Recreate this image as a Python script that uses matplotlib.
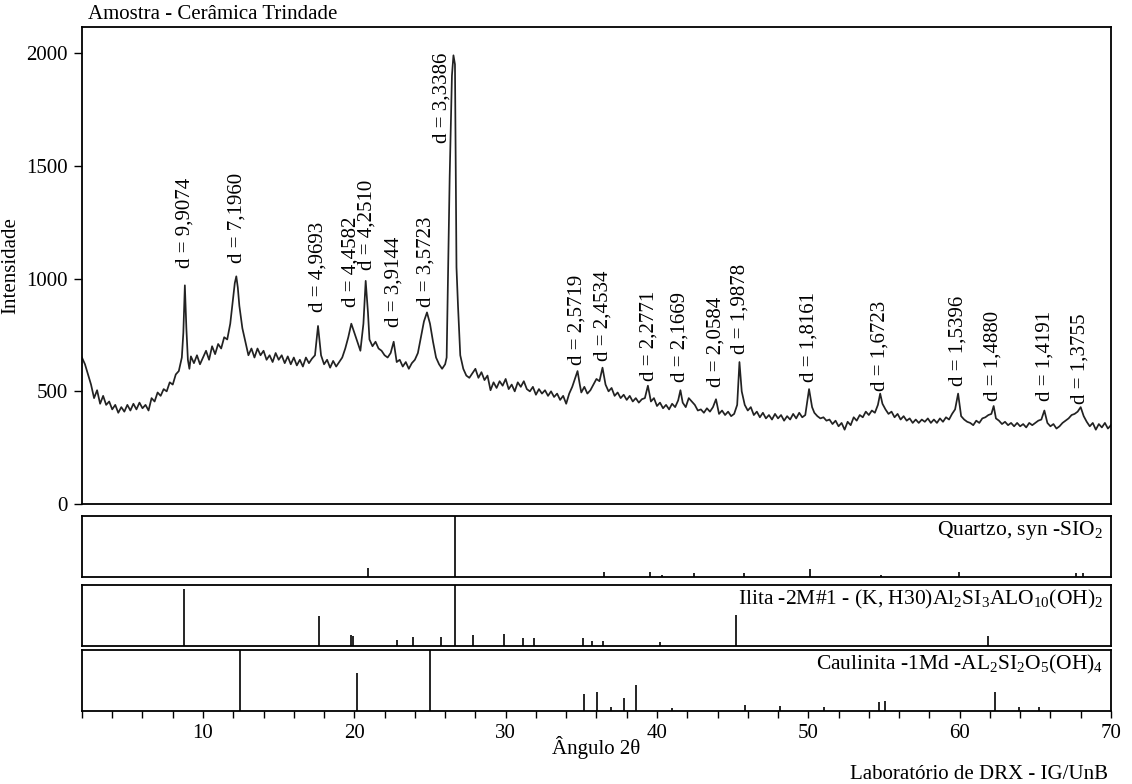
import matplotlib
matplotlib.use("Agg")
import matplotlib.pyplot as plt
from matplotlib.ticker import MultipleLocator

plt.rcParams['font.family'] = ['Liberation Serif', 'DejaVu Serif']
plt.rcParams['mathtext.fontset'] = 'custom'
plt.rcParams['mathtext.rm'] = 'Liberation Serif'
plt.rcParams['mathtext.it'] = 'Liberation Serif'
plt.rcParams['mathtext.default'] = 'regular'

# ---- XRD pattern (2-theta, intensity) ----
two_theta = [
    2.0, 2.2, 2.4, 2.6, 2.8, 3.0, 3.2, 3.4, 3.6, 3.8, 4.0, 4.2, 4.4, 4.6, 4.8, 5.0,
    5.2, 5.4, 5.6, 5.8, 6.0, 6.2, 6.4, 6.6, 6.8, 7.0, 7.2, 7.4, 7.6, 7.8, 8.0, 8.2,
    8.4, 8.6, 8.7, 8.8, 8.9, 9.0, 9.1, 9.2, 9.4, 9.6, 9.8, 10.0, 10.2, 10.4, 10.6,
    10.8, 11.0, 11.2, 11.4, 11.6, 11.8, 12.0, 12.1, 12.2, 12.3, 12.4, 12.6, 12.8,
    13.0, 13.2, 13.4, 13.6, 13.8, 14.0, 14.2, 14.4, 14.6, 14.8, 15.0, 15.2, 15.4,
    15.6, 15.8, 16.0, 16.2, 16.4, 16.6, 16.8, 17.0, 17.2, 17.4, 17.6, 17.8, 18.0,
    18.2, 18.4, 18.6, 18.8, 19.0, 19.2, 19.4, 19.6, 19.8, 20.0, 20.2, 20.4, 20.6,
    20.75, 20.9, 21.0, 21.2, 21.4, 21.6, 21.8, 22.0, 22.2, 22.4, 22.6, 22.8, 23.0,
    23.2, 23.4, 23.6, 23.8, 24.0, 24.2, 24.4, 24.6, 24.8, 25.0, 25.2, 25.4, 25.6,
    25.8, 26.0, 26.1, 26.3, 26.45, 26.55, 26.65, 26.75, 26.85, 27.0, 27.2, 27.4,
    27.6, 27.8, 28.0, 28.2, 28.4, 28.6, 28.8, 29.0, 29.2, 29.4, 29.6, 29.8, 30.0,
    30.2, 30.4, 30.6, 30.8, 31.0, 31.2, 31.4, 31.6, 31.8, 32.0, 32.2, 32.4, 32.6,
    32.8, 33.0, 33.2, 33.4, 33.6, 33.8, 34.0, 34.2, 34.4, 34.6, 34.75, 34.9, 35.0,
    35.2, 35.4, 35.6, 35.8, 36.0, 36.2, 36.4, 36.6, 36.8, 37.0, 37.2, 37.4, 37.6,
    37.8, 38.0, 38.2, 38.4, 38.6, 38.8, 39.0, 39.2, 39.4, 39.6, 39.8, 40.0, 40.2,
    40.4, 40.6, 40.8, 41.0, 41.2, 41.4, 41.55, 41.7, 41.9, 42.1, 42.3, 42.5, 42.7,
    42.9, 43.1, 43.3, 43.5, 43.7, 43.9, 44.1, 44.3, 44.5, 44.7, 44.9, 45.1, 45.3,
    45.45, 45.6, 45.8, 46.0, 46.2, 46.4, 46.6, 46.8, 47.0, 47.2, 47.4, 47.6, 47.8,
    48.0, 48.2, 48.4, 48.6, 48.8, 49.0, 49.2, 49.4, 49.6, 49.8, 50.05, 50.25, 50.4,
    50.6, 50.8, 51.0, 51.2, 51.4, 51.6, 51.8, 52.0, 52.2, 52.4, 52.6, 52.8, 53.0,
    53.2, 53.4, 53.6, 53.8, 54.0, 54.2, 54.4, 54.6, 54.75, 54.9, 55.1, 55.3, 55.5,
    55.7, 55.9, 56.1, 56.3, 56.5, 56.7, 56.9, 57.1, 57.3, 57.5, 57.7, 57.9, 58.1,
    58.3, 58.5, 58.7, 58.9, 59.1, 59.3, 59.5, 59.7, 59.9, 60.1, 60.3, 60.5, 60.7,
    60.9, 61.1, 61.3, 61.5, 61.7, 61.9, 62.1, 62.25, 62.4, 62.6, 62.8, 63.0, 63.2,
    63.4, 63.6, 63.8, 64.0, 64.2, 64.4, 64.6, 64.8, 65.0, 65.2, 65.4, 65.6, 65.8,
    66.0, 66.2, 66.4, 66.6, 66.8, 67.0, 67.2, 67.4, 67.6, 67.8, 68.0, 68.2, 68.4,
    68.6, 68.8, 69.0, 69.2, 69.4, 69.6, 69.8, 70.0,
]
intensity = [
    650, 620, 575, 530, 470, 505, 445, 480, 440, 455, 420, 440, 405, 430, 410, 440,
    415, 445, 420, 450, 425, 440, 415, 470, 455, 495, 480, 510, 500, 540, 530, 575,
    590, 650, 760, 970, 780, 640, 600, 655, 625, 660, 620, 650, 680, 640, 700,
    665, 710, 690, 740, 730, 800, 920, 980, 1010, 960, 880, 780, 720,
    660, 690, 650, 690, 660, 680, 640, 660, 630, 670, 640, 660, 625,
    655, 620, 650, 615, 640, 610, 650, 625, 645, 660, 790, 660, 620,
    640, 605, 635, 610, 630, 650, 690, 740, 800, 760, 720, 680, 800,
    990, 850, 730, 700, 720, 690, 680, 660, 650, 670, 720, 630, 640,
    610, 630, 600, 625, 640, 670, 740, 810, 850, 800, 720, 650, 620,
    600, 620, 650, 1450, 1900, 1990, 1950, 1050, 880, 660, 600, 570,
    560, 580, 600, 560, 585, 550, 570, 505, 540, 515, 545, 525, 555,
    510, 530, 500, 540, 520, 545, 510, 500, 520, 485, 510, 490, 505,
    480, 500, 475, 490, 462, 480, 445, 490, 520, 560, 590, 530, 495,
    520, 490, 505, 530, 555, 545, 605, 530, 500, 515, 480, 495, 470,
    485, 462, 480, 455, 470, 450, 465, 470, 525, 455, 470, 435, 450,
    425, 440, 420, 445, 430, 460, 505, 450, 430, 470, 455, 440, 415,
    420, 405, 425, 410, 430, 465, 400, 415, 395, 410, 390, 400, 440,
    630, 500, 440, 415, 430, 395, 410, 385, 405, 380, 395, 375, 400,
    380, 395, 370, 390, 375, 400, 380, 405, 385, 395, 510, 430, 405,
    390, 380, 385, 370, 375, 355, 370, 345, 360, 330, 365, 350, 385,
    370, 395, 385, 410, 395, 415, 405, 440, 490, 445, 420, 400, 410,
    385, 400, 375, 390, 370, 380, 360, 375, 360, 375, 365, 380, 360,
    375, 360, 380, 365, 385, 375, 400, 420, 490, 390, 375, 365, 360,
    350, 370, 360, 380, 385, 395, 400, 435, 380, 370, 355, 365, 350,
    360, 345, 360, 345, 355, 340, 360, 350, 360, 370, 375, 415, 360,
    345, 355, 335, 345, 360, 370, 380, 395, 400, 410, 430, 390, 365,
    345, 360, 330, 355, 340, 360, 335, 350,
]

# ---- peak labels ----
peak_labels = ["d = 9,9074", "d = 7,1960", "d = 4,9693", "d = 4,4582", "d = 4,2510",
               "d = 3,9144", "d = 3,5723", "d = 3,3386", "d = 2,5719", "d = 2,4534",
               "d = 2,2771", "d = 2,1669", "d = 2,0584", "d = 1,9878", "d = 1,8161",
               "d = 1,6723", "d = 1,5396", "d = 1,4880", "d = 1,4191", "d = 1,3755"]
peak_label_x = [8.83, 12.24, 17.62, 19.75, 20.82, 22.6, 24.75, 25.8, 34.7, 36.45,
                39.45, 41.55, 43.9, 45.5, 50.07, 54.75, 59.92, 62.23, 65.65, 67.96]
peak_label_y = [1045, 1070, 850, 875, 1040, 785, 875, 1600, 615, 635,
                548, 540, 520, 665, 540, 500, 525, 455, 457, 445]

# ---- reference phases (stick patterns, relative intensity %) ----
quartz_pos = [20.87, 26.65, 36.49, 39.55, 40.3, 42.45, 45.75, 50.1, 54.8, 59.96, 67.7, 68.13]
quartz_int = [15, 100, 8, 8, 4, 7, 7, 13, 3, 8, 7, 7]

ilita_pos = [8.76, 17.64, 19.76, 19.92, 22.8, 23.87, 25.75, 26.65, 27.84, 29.89, 31.15,
             31.87, 35.09, 35.71, 36.44, 40.2, 45.25, 61.86]
ilita_int = [93, 49, 18, 16, 10, 14, 15, 100, 18, 20, 13, 13, 13, 9, 9, 6, 51, 16]

caul_pos = [12.47, 20.16, 25.03, 35.15, 36.02, 36.96, 37.8, 38.62, 41.0, 45.8, 48.13,
            51.04, 54.68, 55.1, 62.34, 63.93, 65.25]
caul_int = [100, 62, 100, 28, 31, 7, 22, 42, 5, 10, 8, 7, 14, 17, 31, 7, 6]

phase_names = ["Quartzo, syn -SIO$_2$",
               "Ilita -2M#1 - (K, H30)Al$_2$SI$_3$ALO$_{10}$(OH)$_2$",
               "Caulinita -1Md -AL$_2$SI$_2$O$_5$(OH)$_4$"]

FS = 15
fig = plt.figure(figsize=(11.32, 7.84), dpi=100)
L, W = 0.0724, 0.909
ax = fig.add_axes([L, 0.357, W, 0.6084])
ax.plot(two_theta, intensity, color='#222222', lw=1.25)
ax.set_xlim(2, 70)
ax.set_ylim(0, 2115)
ax.set_yticks([0, 500, 1000, 1500, 2000])
ax.tick_params(axis='y', direction='out', length=6, width=1, labelsize=FS, pad=4)
ax.tick_params(axis='x', bottom=False, labelbottom=False)
ax.set_ylabel("Intensidade", fontsize=FS)
ax.yaxis.set_label_coords(-0.06, 0.5)
for lab, x, y in zip(peak_labels, peak_label_x, peak_label_y):
    ax.text(x, y, lab, rotation=90, ha='center', va='bottom', fontsize=FS)
fig.text(0.0777, 0.982, "Amostra - Cerâmica Trindade", fontsize=FS, ha='left', va='center')

H = 0.0778
panels = [(0.2640, quartz_pos, quartz_int), (0.1760, ilita_pos, ilita_int), (0.0931, caul_pos, caul_int)]
axes = []
for i, (b, pos, inten) in enumerate(panels):
    a = fig.add_axes([L, b, W, H])
    a.vlines(pos, 0, inten, color='black', lw=1.2)
    a.set_xlim(2, 70)
    a.set_ylim(0, 100)
    a.set_yticks([])
    a.text(0.992, 0.76, phase_names[i], transform=a.transAxes, ha='right', va='center',
           fontsize=15.5)
    axes.append(a)

for a in [ax] + axes:
    for s in a.spines.values():
        s.set_linewidth(1.3)

for a in axes[:2]:
    a.tick_params(axis='x', bottom=False, labelbottom=False)
ab = axes[2]
ab.xaxis.set_major_locator(MultipleLocator(10))
ab.xaxis.set_minor_locator(MultipleLocator(2))
ab.tick_params(axis='x', which='both', direction='out', length=5, width=1, labelsize=FS, pad=4)
fig.text(0.527, 0.046, "Ângulo 2θ", fontsize=FS, ha='center', va='center')
fig.text(0.979, 0.0115, "Laboratório de DRX - IG/UnB", fontsize=FS, ha='right', va='center')

fig.savefig("out.png", dpi=100)
